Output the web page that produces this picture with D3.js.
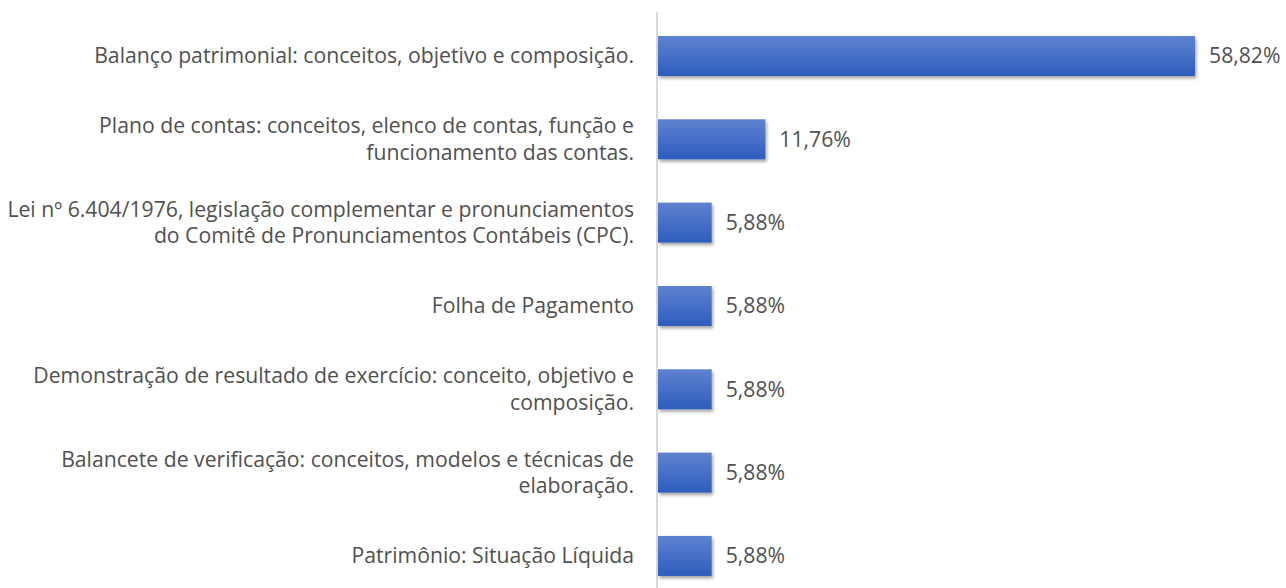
<!DOCTYPE html>
<html><head><meta charset="utf-8">
<script src="https://cdn.jsdelivr.net/npm/d3@7"></script>
<style>body{margin:0;background:#fff;}svg{display:block;}</style>
</head><body>
<svg id="c" width="1286" height="588"></svg>
<script>
const categories = [
  "Balanço patrimonial: conceitos, objetivo e composição.",
  "Plano de contas: conceitos, elenco de contas, função e\nfuncionamento das contas.",
  "Lei nº 6.404/1976, legislação complementar e pronunciamentos\ndo Comitê de Pronunciamentos Contábeis (CPC).",
  "Folha de Pagamento",
  "Demonstração de resultado de exercício: conceito, objetivo e\ncomposição.",
  "Balancete de verificação: conceitos, modelos e técnicas de\nelaboração.",
  "Patrimônio: Situação Líquida"
];
const values = [58.82, 11.76, 5.88, 5.88, 5.88, 5.88, 5.88];
const valueLabels = ["58,82%", "11,76%", "5,88%", "5,88%", "5,88%", "5,88%", "5,88%"];

const svg = d3.select("#c");
const x0 = 658;
const x = d3.scaleLinear().domain([0, 100]).range([x0, x0 + 913]);
const y = d3.scaleBand().domain(categories).range([14.3, 597.6]).paddingInner(0.52).paddingOuter(0.26);

const defs = svg.append("defs");
const g = defs.append("linearGradient").attr("id", "bg").attr("x1", 0).attr("y1", 0).attr("x2", 0).attr("y2", 1);
g.append("stop").attr("offset", "0%").attr("stop-color", "#5f82d0");
g.append("stop").attr("offset", "100%").attr("stop-color", "#2d5dbd");
const f = defs.append("filter").attr("id", "sh").attr("x", "-10%").attr("y", "-20%").attr("width", "130%").attr("height", "160%");
f.append("feDropShadow").attr("dx", 1.5).attr("dy", 2.5).attr("stdDeviation", 1.8).attr("flood-color", "#000").attr("flood-opacity", 0.35);

svg.append("line").attr("x1", 657).attr("x2", 657).attr("y1", 12).attr("y2", 588)
  .attr("stroke", "#d9d9d9").attr("stroke-width", 2);

svg.selectAll("rect.bar").data(values).join("rect").attr("class", "bar")
  .attr("x", x(0)).attr("y", (d, i) => y(categories[i]))
  .attr("width", d => x(d) - x(0)).attr("height", y.bandwidth())
  .attr("fill", "url(#bg)").attr("filter", "url(#sh)");

const font = "'Open Sans', sans-serif";
const fs = 21.2;
svg.selectAll("text.val").data(values).join("text").attr("class", "val")
  .attr("x", d => x(d) + 14).attr("y", (d, i) => y(categories[i]) + y.bandwidth() / 2)
  .attr("dy", "0.35em").attr("font-family", font).attr("font-size", fs).attr("fill", "#505050")
  .text((d, i) => valueLabels[i]);

categories.forEach((c, i) => {
  const lines = c.split("\n");
  const cy = y(c) + y.bandwidth() / 2;
  const lh = 26.5;
  const t = svg.append("text").attr("text-anchor", "end").attr("font-family", font)
    .attr("font-size", fs).attr("fill", "#505050");
  lines.forEach((l, j) => {
    t.append("tspan").attr("x", 634).attr("y", cy + (j - (lines.length - 1) / 2) * lh).attr("dy", "0.35em").text(l);
  });
});
</script>
</body></html>
